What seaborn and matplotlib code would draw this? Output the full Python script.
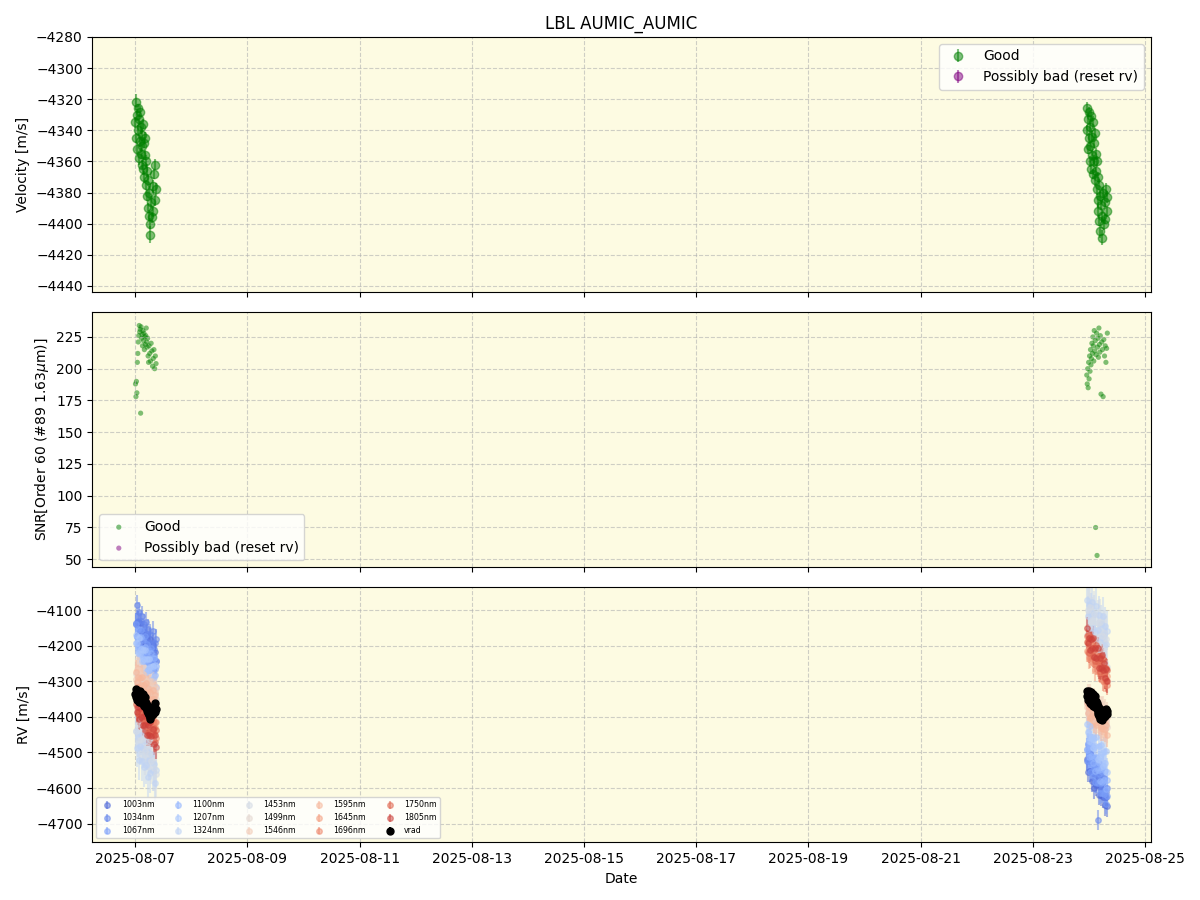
import matplotlib
matplotlib.use("Agg")
import matplotlib.pyplot as plt
import matplotlib.dates as mdates
from matplotlib.ticker import FixedLocator
import numpy as np
import pandas as pd
import seaborn as sns

# observation times, hours after the start of each night
night1_start = "2025-08-07 00:00"
night2_start = "2025-08-23 23:00"

hours_1 = [0.1, 0.3, 0.5, 0.7, 0.9, 1.1, 1.3, 1.5, 1.7, 1.9, 2.1, 2.3, 2.5, 2.7, 2.9, 3.1, 3.3, 3.5, 3.7, 3.9,
           4.1, 4.3, 4.5, 4.7, 4.9, 5.1, 5.3, 5.5, 5.7, 5.9, 6.2, 6.5, 6.8, 7.1, 7.4, 7.7, 8.0, 8.3, 8.6, 8.9]
hours_2 = [0.1, 0.3, 0.5, 0.7, 0.9, 1.1, 1.3, 1.5, 1.7, 1.9, 2.1, 2.3, 2.5, 2.7, 2.9, 3.1, 3.3, 3.5, 3.7, 3.9,
           4.1, 4.3, 4.5, 4.7, 4.9, 5.1, 5.3, 5.5, 5.7, 5.9, 6.2, 6.5, 6.8, 7.1, 7.4, 7.7, 8.0, 8.3, 8.6, 8.9]

# velocity (vrad) per night
vel_1 = [-4335, -4322, -4345, -4330, -4352, -4326, -4340, -4358, -4333, -4347, -4328, -4355, -4338, -4362,
         -4343, -4350, -4336, -4365, -4348, -4370, -4356, -4345, -4375, -4360, -4382, -4366, -4390, -4372,
         -4395, -4380, -4400, -4407, -4386, -4396, -4376, -4392, -4368, -4385, -4362, -4378]
vel_2 = [-4340, -4326, -4352, -4333, -4345, -4328, -4360, -4338, -4350, -4331, -4365, -4344, -4356, -4335,
         -4368, -4348, -4360, -4342, -4372, -4355, -4366, -4378, -4360, -4385, -4370, -4392, -4375, -4398,
         -4382, -4405, -4388, -4409, -4395, -4380, -4400, -4386, -4397, -4378, -4392, -4383]
vel_err_1 = [3.5, 5.0, 3.2, 3.8, 4.0, 3.1, 3.6, 4.2, 3.3, 3.9, 3.4, 3.7, 4.1, 3.2, 3.6, 3.8, 3.3, 4.0, 3.5, 3.9,
             3.4, 3.6, 3.2, 3.8, 3.5, 4.1, 3.3, 3.7, 3.6, 4.0, 3.4, 5.2, 3.8, 3.5, 4.2, 3.6, 3.3, 3.9, 3.7, 4.0]
vel_err_2 = [3.6, 4.4, 3.3, 3.9, 3.5, 3.2, 3.7, 4.0, 3.4, 3.8, 3.3, 3.6, 3.5, 4.1, 3.2, 3.7, 3.9, 3.4, 3.6, 3.8,
             3.5, 3.3, 3.7, 4.0, 3.4, 3.9, 3.5, 3.8, 3.6, 4.2, 3.5, 5.0, 3.7, 3.4, 4.3, 3.6, 3.5, 4.0, 3.6, 3.9]

# SNR in order 60
snr_1 = [188, 178, 190, 181, 205, 212, 221, 226, 234, 229, 231, 165, 233, 224, 227, 218, 230, 222, 228, 215,
         225, 219, 226, 232, 221, 217, 224, 210, 205, 218, 212, 206, 220, 214, 202, 208, 215, 200, 210, 204]
snr_2 = [195, 188, 200, 185, 205, 192, 210, 198, 215, 203, 208, 220, 212, 225, 218, 206, 230, 214, 222, 75,
         211, 228, 53, 217, 224, 209, 232, 219, 213, 226, 180, 221, 215, 178, 223, 210, 218, 205, 216, 228]

# per-band RVs (20 epochs per night)
band_hours_1 = [0.2, 0.65, 1.1, 1.55, 2.0, 2.45, 2.9, 3.35, 3.8, 4.25, 4.7, 5.15, 5.6, 6.05, 6.5, 6.95, 7.4, 7.85, 8.3, 8.75]
band_hours_2 = [0.2, 0.65, 1.1, 1.55, 2.0, 2.45, 2.9, 3.35, 3.8, 4.25, 4.7, 5.15, 5.6, 6.05, 6.5, 6.95, 7.4, 7.85, 8.3, 8.75]

band_labels = ["1003nm", "1034nm", "1067nm", "1100nm", "1207nm", "1324nm", "1453nm",
               "1499nm", "1546nm", "1595nm", "1645nm", "1696nm", "1750nm", "1805nm"]
band_err = [30, 28, 30, 32, 40, 55, 65, 45, 40, 35, 30, 28, 30, 32]

rv1003_1 = [-4138, -4172, -4133, -4168, -4137, -4193, -4167, -4209, -4169, -4198, -4172, -4221, -4195, -4220, -4181, -4221, -4199, -4241, -4216, -4242]
rv1034_1 = [-4135, -4085, -4129, -4106, -4157, -4129, -4116, -4158, -4138, -4182, -4132, -4167, -4152, -4191, -4168, -4193, -4157, -4208, -4192, -4180]
rv1067_1 = [-4140, -4173, -4154, -4199, -4174, -4156, -4206, -4183, -4220, -4172, -4219, -4194, -4245, -4215, -4241, -4206, -4240, -4228, -4265, -4242]
rv1100_1 = [-4192, -4175, -4209, -4176, -4207, -4176, -4223, -4208, -4243, -4202, -4237, -4217, -4267, -4233, -4268, -4221, -4260, -4235, -4283, -4258]
rv1207_1 = [-4170, -4192, -4219, -4178, -4223, -4208, -4242, -4212, -4237, -4212, -4273, -4238, -4268, -4236, -4259, -4297, -4256, -4289, -4255, -4315]
rv1324_1 = [-4440, -4487, -4457, -4522, -4481, -4452, -4525, -4488, -4541, -4467, -4535, -4495, -4569, -4522, -4558, -4503, -4553, -4532, -4585, -4548]
rv1453_1 = [-4440, -4370, -4421, -4366, -4466, -4406, -4462, -4392, -4457, -4497, -4423, -4483, -4423, -4503, -4464, -4524, -4459, -4544, -4480, -4560]
rv1499_1 = [-4280, -4308, -4277, -4304, -4281, -4315, -4301, -4328, -4297, -4322, -4300, -4337, -4318, -4334, -4308, -4334, -4320, -4351, -4329, -4349]
rv1546_1 = [-4292, -4267, -4290, -4268, -4309, -4285, -4310, -4280, -4309, -4292, -4326, -4303, -4328, -4300, -4321, -4300, -4332, -4310, -4334, -4319]
rv1595_1 = [-4275, -4303, -4288, -4317, -4291, -4311, -4289, -4326, -4309, -4338, -4305, -4333, -4318, -4347, -4330, -4349, -4323, -4350, -4338, -4365]
rv1645_1 = [-4345, -4315, -4364, -4334, -4354, -4329, -4378, -4348, -4398, -4367, -4387, -4360, -4405, -4363, -4404, -4389, -4431, -4392, -4427, -4414]
rv1696_1 = [-4327, -4372, -4347, -4388, -4341, -4382, -4360, -4385, -4357, -4408, -4389, -4425, -4393, -4418, -4395, -4450, -4415, -4445, -4413, -4460]
rv1750_1 = [-4365, -4345, -4393, -4350, -4383, -4355, -4403, -4385, -4417, -4372, -4417, -4400, -4445, -4402, -4430, -4408, -4450, -4432, -4470, -4438]
rv1805_1 = [-4345, -4385, -4371, -4406, -4374, -4399, -4369, -4422, -4397, -4424, -4396, -4451, -4422, -4451, -4414, -4454, -4434, -4476, -4452, -4485]

rv1003_2 = [-4518, -4554, -4517, -4552, -4523, -4581, -4557, -4601, -4561, -4592, -4568, -4619, -4594, -4620, -4583, -4625, -4605, -4648, -4624, -4652]
rv1034_2 = [-4525, -4476, -4523, -4501, -4553, -4527, -4516, -4559, -4541, -4587, -4690, -4574, -4561, -4602, -4580, -4607, -4573, -4625, -4611, -4600]
rv1067_2 = [-4490, -4524, -4508, -4554, -4530, -4514, -4566, -4544, -4583, -4537, -4585, -4561, -4614, -4586, -4613, -4580, -4616, -4605, -4644, -4622]
rv1100_2 = [-4492, -4476, -4512, -4479, -4511, -4481, -4530, -4516, -4551, -4512, -4548, -4529, -4579, -4547, -4583, -4537, -4578, -4553, -4602, -4578]
rv1207_2 = [-4420, -4442, -4467, -4426, -4471, -4456, -4488, -4458, -4483, -4457, -4517, -4482, -4512, -4479, -4501, -4539, -4497, -4530, -4495, -4555]
rv1324_2 = [-4070, -4116, -4085, -4149, -4107, -4076, -4149, -4111, -4162, -4088, -4155, -4114, -4186, -4139, -4174, -4117, -4167, -4145, -4196, -4158]
rv1453_2 = [-4170, -4099, -4147, -4091, -4190, -4128, -4182, -4111, -4174, -4213, -4137, -4196, -4134, -4213, -4172, -4230, -4164, -4248, -4181, -4260]
rv1499_2 = [-4360, -4388, -4357, -4384, -4361, -4395, -4381, -4408, -4377, -4402, -4380, -4417, -4398, -4414, -4388, -4414, -4400, -4431, -4409, -4429]
rv1546_2 = [-4372, -4347, -4370, -4348, -4389, -4365, -4390, -4360, -4389, -4372, -4406, -4383, -4408, -4380, -4401, -4380, -4412, -4390, -4414, -4399]
rv1595_2 = [-4360, -4388, -4373, -4402, -4376, -4396, -4374, -4411, -4394, -4423, -4390, -4418, -4403, -4432, -4415, -4434, -4408, -4435, -4423, -4450]
rv1645_2 = [-4215, -4185, -4234, -4204, -4224, -4199, -4248, -4218, -4268, -4237, -4257, -4230, -4275, -4233, -4274, -4259, -4301, -4262, -4297, -4284]
rv1696_2 = [-4172, -4217, -4193, -4234, -4187, -4228, -4207, -4232, -4204, -4255, -4237, -4273, -4241, -4266, -4244, -4299, -4264, -4294, -4263, -4310]
rv1750_2 = [-4190, -4170, -4219, -4176, -4209, -4181, -4230, -4212, -4244, -4199, -4245, -4228, -4273, -4230, -4259, -4237, -4279, -4261, -4300, -4268]
rv1805_2 = [-4150, -4191, -4177, -4212, -4181, -4207, -4177, -4231, -4206, -4234, -4206, -4262, -4233, -4263, -4226, -4267, -4248, -4290, -4266, -4300]

tick_dates = ["2025-08-07", "2025-08-09", "2025-08-11", "2025-08-13", "2025-08-15",
              "2025-08-17", "2025-08-19", "2025-08-21", "2025-08-23", "2025-08-25"]


def to_dates(start, hours):
    return pd.Timestamp(start) + pd.to_timedelta(hours, unit="h")


dates = to_dates(night1_start, hours_1).append(to_dates(night2_start, hours_2))
band_dates = to_dates(night1_start, band_hours_1).append(to_dates(night2_start, band_hours_2))
vel = np.array(vel_1 + vel_2)
vel_err = np.array(vel_err_1 + vel_err_2)
snr = np.array(snr_1 + snr_2)
band_rv = [rv1003_1 + rv1003_2, rv1034_1 + rv1034_2, rv1067_1 + rv1067_2, rv1100_1 + rv1100_2,
           rv1207_1 + rv1207_2, rv1324_1 + rv1324_2, rv1453_1 + rv1453_2, rv1499_1 + rv1499_2,
           rv1546_1 + rv1546_2, rv1595_1 + rv1595_2, rv1645_1 + rv1645_2, rv1696_1 + rv1696_2,
           rv1750_1 + rv1750_2, rv1805_1 + rv1805_2]

plt.rcParams['font.family'] = ['DejaVu Sans']

fig, axes = plt.subplots(3, 1, figsize=(12, 9), dpi=100, sharex=True)
fig.subplots_adjust(left=0.077, right=0.959, top=0.959, bottom=0.064, hspace=0.078)
bg = "#fdfbe2"

# velocity
ax = axes[0]
ax.errorbar(dates, vel, yerr=vel_err, fmt="o", color="green", alpha=0.5, ms=6, label="Good")
ax.errorbar([], [], yerr=[], fmt="o", color="purple", alpha=0.5, ms=6, label="Possibly bad (reset rv)")
ax.set_ylabel("Velocity [m/s]")
ax.set_ylim(-4444, -4280)
ax.set_title("LBL AUMIC_AUMIC")
ax.legend(loc="upper right")

# SNR
ax = axes[1]
snr_df = pd.DataFrame({"date": dates, "snr": snr})
sns.scatterplot(data=snr_df, x="date", y="snr", color="green", alpha=0.5, s=14,
                edgecolor="none", ax=ax, label="Good")
ax.scatter([], [], color="purple", alpha=0.5, s=14, edgecolor="none", label="Possibly bad (reset rv)")
ax.set_ylabel(r"SNR[Order 60 (#89 1.63$\mu$m)]")
ax.set_xlabel("")
ax.set_ylim(43.7, 244.6)
ax.legend(loc="lower left")

# per-band RV
ax = axes[2]
colors = sns.color_palette("coolwarm", len(band_labels))
for rv, err, lab, c in zip(band_rv, band_err, band_labels, colors):
    ax.errorbar(band_dates, rv, yerr=err, fmt="o", color=c, alpha=0.5, ms=4,
                elinewidth=1.5, label=lab)
ax.errorbar(dates, vel, yerr=vel_err, fmt="o", color="black", ms=5, label="vrad")
ax.set_ylabel("RV [m/s]")
ax.set_ylim(-4753, -4035)
ax.legend(loc="lower left", ncol=5, fontsize=5.7)
ax.set_xlabel("Date")

for ax in axes:
    ax.set_facecolor(bg)
    ax.grid(True, linestyle="--", alpha=0.6)
    ax.set_xlim(pd.Timestamp("2025-08-06 05:40"), pd.Timestamp("2025-08-25 02:30"))
axes[2].xaxis.set_major_locator(FixedLocator(mdates.date2num(pd.to_datetime(tick_dates))))
axes[2].xaxis.set_major_formatter(mdates.DateFormatter("%Y-%m-%d"))

fig.savefig("out.png")
